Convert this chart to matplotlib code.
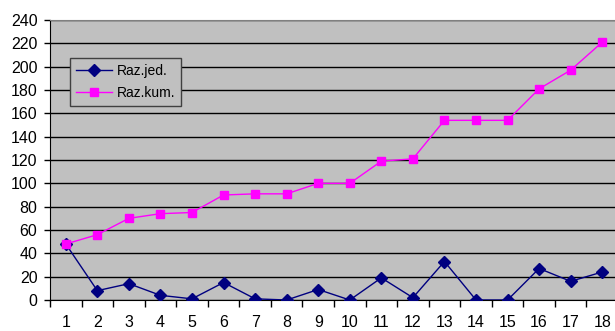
import matplotlib
matplotlib.use("Agg")
import matplotlib.pyplot as plt

plt.rcParams["font.family"] = ["Liberation Sans", "DejaVu Sans"]

days = list(range(1, 19))
raz_jed = [48, 8, 14, 4, 1, 15, 1, 0, 9, 0, 19, 2, 33, 0, 0, 27, 16, 24]
raz_kum = [48, 56, 70, 74, 75, 90, 91, 91, 100, 100, 119, 121, 154, 154, 154, 181, 197, 221]
yticks = list(range(0, 241, 20))

fig = plt.figure(figsize=(6.15, 3.31), dpi=100)
ax = fig.add_axes([50 / 615, 31 / 331, 568 / 615, 280 / 331])
ax.set_facecolor("#C0C0C0")

ax.plot(days, raz_jed, color="#000080", lw=1, marker="D", ms=6,
        mfc="#000080", mec="#000080", label="Raz.jed.", zorder=3)
ax.plot(days, raz_kum, color="#FF00FF", lw=1, marker="s", ms=6,
        mfc="#FF00FF", mec="#FF00FF", label="Raz.kum.", zorder=3)

ax.set_xlim(0.5, 18.5)
ax.set_ylim(0, 240)
ax.set_yticks(yticks)
ax.set_xticks(days)
ax.set_xticks([d + 0.5 for d in range(0, 18)], minor=True)
ax.tick_params(axis="x", which="major", length=0, pad=11, labelsize=11.5)
ax.tick_params(axis="x", which="minor", length=5, width=1, color="black")
ax.tick_params(axis="y", length=4, width=1, pad=5, labelsize=11.5)
ax.yaxis.grid(True, color="black", lw=1)
ax.set_axisbelow(True)

for side in ("top", "right"):
    ax.spines[side].set_color("#808080")
ax.spines["left"].set_color("black")
ax.spines["bottom"].set_color("black")

leg = ax.legend(loc="upper left", bbox_to_anchor=(20 / 568, 242 / 280),
                borderaxespad=0, fontsize=10, frameon=True, fancybox=False,
                framealpha=1, facecolor="#C0C0C0", edgecolor="#404040",
                borderpad=0.45, handlelength=2.6, handletextpad=0.3,
                labelspacing=0.55)
leg.get_frame().set_linewidth(1)

fig.savefig("out.png", dpi=100)
